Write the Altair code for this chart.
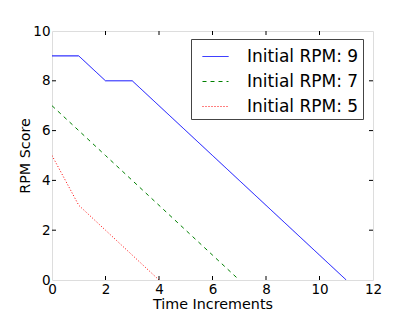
import altair as alt
import pandas as pd

series = ["Initial RPM: 9", "Initial RPM: 7", "Initial RPM: 5"]
t9 = [0, 1, 2, 3, 4, 5, 6, 7, 8, 9, 10, 11]
r9 = [9, 9, 8, 8, 7, 6, 5, 4, 3, 2, 1, 0]
t7 = [0, 1, 2, 3, 4, 5, 6, 7]
r7 = [7, 6, 5, 4, 3, 2, 1, 0]
t5 = [0, 1, 2, 3, 4]
r5 = [5, 3, 2, 1, 0]
colors = ["#0000ff", "#008000", "#ff0000"]
dashes = [[1, 0], [4, 4], [1, 2]]
x_ticks = [0, 2, 4, 6, 8, 10, 12]
y_ticks = [0, 2, 4, 6, 8, 10]

rows = []
for name, ts, rs in zip(series, [t9, t7, t5], [r9, r7, r5]):
    for i, (t, r) in enumerate(zip(ts, rs)):
        rows.append({"series": name, "t": t, "rpm": r, "order": i})
df = pd.DataFrame(rows)

W, H = 321, 249
FONT = "DejaVu Sans"

xscale = alt.Scale(domain=[0, 12], nice=False, zero=False)
yscale = alt.Scale(domain=[0, 10], nice=False, zero=False)

lines = alt.Chart(df).mark_line(strokeWidth=1, clip=True).encode(
    x=alt.X("t:Q", scale=xscale,
            axis=alt.Axis(values=x_ticks, ticks=False, domain=False, grid=False,
                          labelFont=FONT, labelFontSize=13.5, labelColor="black",
                          labelPadding=2, title="Time Increments",
                          titleFont=FONT, titleFontSize=14.3, titleFontWeight="normal",
                          titleColor="black", titlePadding=2, labelFlush=False)),
    y=alt.Y("rpm:Q", scale=yscale,
            axis=alt.Axis(values=y_ticks, ticks=False, domain=False, grid=False,
                          labelFont=FONT, labelFontSize=13.5, labelColor="black",
                          labelPadding=2, title="RPM Score",
                          titleFont=FONT, titleFontSize=14.3, titleFontWeight="normal",
                          titleColor="black", titlePadding=0, labelFlush=False)),
    color=alt.Color("series:N", sort=series,
                    scale=alt.Scale(domain=series, range=colors),
                    legend=alt.Legend(title=None, orient="none", legendX=139, legendY=8,
                                      symbolType="stroke", symbolSize=676,
                                      symbolStrokeWidth=1,
                                      labelFont=FONT, labelFontSize=17, labelColor="black",
                                      labelOffset=18, padding=4, rowPadding=3,
                                      symbolOffset=7,
                                      strokeColor="#444", fillColor="white")),
    strokeDash=alt.StrokeDash("series:N", sort=series,
                              scale=alt.Scale(domain=series, range=dashes),
                              legend=None),
    order="order:Q",
)

xt = pd.DataFrame({"v": x_ticks[1:-1]})
yt = pd.DataFrame({"v": y_ticks[1:-1]})
tick_col = "black"
xb = alt.Chart(xt).mark_rule(color=tick_col, strokeWidth=1).encode(
    x=alt.X("v:Q", scale=xscale), y=alt.value(H), y2=alt.value(H - 4))
xtp = alt.Chart(xt).mark_rule(color=tick_col, strokeWidth=1).encode(
    x=alt.X("v:Q", scale=xscale), y=alt.value(0), y2=alt.value(4))
yl = alt.Chart(yt).mark_rule(color=tick_col, strokeWidth=1).encode(
    y=alt.Y("v:Q", scale=yscale), x=alt.value(0), x2=alt.value(4))
yr = alt.Chart(yt).mark_rule(color=tick_col, strokeWidth=1).encode(
    y=alt.Y("v:Q", scale=yscale), x=alt.value(W), x2=alt.value(W - 4))

chart = alt.layer(lines, xb, xtp, yl, yr).properties(
    width=W, height=H,
    autosize=alt.AutoSizeParams(type="none"),
    padding={"left": 44, "top": 23, "right": 30, "bottom": 40},
).configure_view(stroke="#555", strokeWidth=1).configure(background="white")

chart.save("out.html", embed_options={"renderer": "svg", "actions": False})
